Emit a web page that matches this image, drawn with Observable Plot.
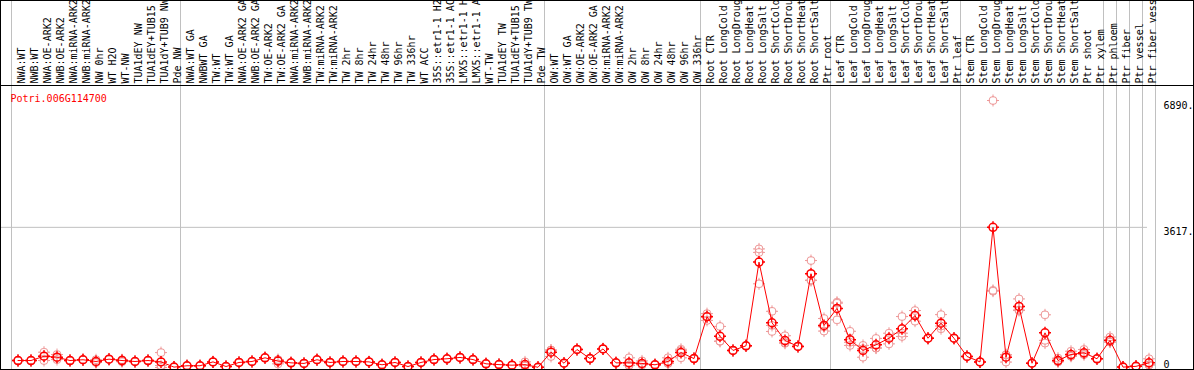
<!DOCTYPE html>
<html><head><meta charset="utf-8">
<script src="https://cdn.jsdelivr.net/npm/d3@7"></script>
<script src="https://cdn.jsdelivr.net/npm/@observablehq/plot@0.6"></script>
<style>html,body{margin:0;padding:0;background:#fff;} #chart{width:1194px;height:370px;overflow:hidden;}</style>
</head><body><div id="chart"></div>
<script>
const geneId = "Potri.006G114700";

const categories = [
  "NWA:WT","NWB:WT","NWA:OE-ARK2","NWB:OE-ARK2","NWA:miRNA-ARK2","NWB:miRNA-ARK2","NW 0hr","WT H2O","WT-NW","TUA1dEY NW","TUA1dEY+TUB15 NW","TUA1dY+TUB9 NW","Pde NW",
  "NWA:WT GA","NWBWT GA","TW:WT","TW:WT GA","NWA:OE-ARK2 GA","NWB:OE-ARK2 GA","TW:OE-ARK2","TW:OE-ARK2 GA","NWA:miRNA-ARK2 GA","NWB:miRNA-ARK2 GA","TW:miRNA-ARK2","TW:miRNA-ARK2 GA",
  "TW 2hr","TW 8hr","TW 24hr","TW 48hr","TW 96hr","TW 336hr","WT ACC","35S::etr1-1 H2O","35S::etr1-1 ACC","LMX5::etr1-1 H2O","LMX5::etr1-1 ACC","WT-TW","TUA1dEY TW","TUA1dEY+TUB15 TW","TUA1dY+TUB9 TW","Pde TW",
  "OW:WT","OW:WT GA","OW:OE-ARK2","OW:OE-ARK2 GA","OW:miRNA-ARK2","OW:miRNA-ARK2 GA","OW 2hr","OW 8hr","OW 24hr","OW 48hr","OW 96hr","OW 336hr",
  "Root CTR","Root LongCold","Root LongDrought","Root LongHeat","Root LongSalt","Root ShortCold","Root ShortDrought","Root ShortHeat","Root ShortSalt","Ptr root",
  "Leaf CTR","Leaf LongCold","Leaf LongDrought","Leaf LongHeat","Leaf LongSalt","Leaf ShortCold","Leaf ShortDrought","Leaf ShortHeat","Leaf ShortSalt","Ptr leaf",
  "Stem CTR","Stem LongCold","Stem LongDrought","Stem LongHeat","Stem LongSalt","Stem ShortCold","Stem ShortDrought","Stem ShortHeat","Stem ShortSalt","Ptr shoot",
  "Ptr xylem","Ptr phloem","Ptr fiber","Ptr vessel","Ptr fiber vessel"
];

const means = [
  180,180,290,265,180,200,155,215,180,155,180,145,10,
  45,45,145,25,130,155,250,165,120,105,200,130,
  155,155,145,70,130,25,130,205,225,260,205,95,75,60,75,5,
  395,110,465,230,480,120,120,105,70,155,385,230,
  1310,805,440,560,2720,1155,695,545,2420,1085,
  1525,718,440,585,755,1000,1340,755,1145,755,
  285,145,3617,265,1575,110,895,180,335,380,
  225,700,10,30,120
];

const rep1 = [
  190,185,395,335,185,205,200,220,150,160,185,385,15,
  50,50,150,30,135,160,255,95,125,110,205,135,
  160,160,150,75,135,30,135,210,230,265,210,100,80,65,145,8,
  285,115,470,235,485,125,250,170,75,250,470,240,
  1390,1060,445,565,3060,1450,820,550,2760,1265,
  1685,935,570,750,885,1315,1470,760,1365,760,
  290,150,6890,140,1770,115,1360,240,420,465,
  230,785,12,35,225
];
const rep2 = [
  175,178,180,205,178,198,130,212,200,152,178,50,8,
  42,42,142,22,128,152,248,200,118,102,198,128,
  152,152,142,68,128,22,128,202,222,258,202,92,72,58,40,4,
  450,108,462,228,478,118,60,75,68,110,250,225,
  1215,680,438,558,2970,930,640,542,2245,940,
  1230,570,265,500,610,800,1195,752,1000,752,
  282,142,1990,330,1470,108,700,150,295,340,
  222,660,8,28,70
];
const rep3 = [
  178,180,295,255,180,200,135,214,190,155,180,0,6,
  44,44,145,24,130,155,250,200,120,105,200,130,
  155,155,145,70,130,25,130,205,225,260,205,95,75,60,40,3,
  450,110,465,230,480,120,50,70,70,105,435,228,
  1325,675,440,560,2160,1085,625,545,2255,1050,
  1660,650,485,505,770,885,1355,755,1070,755,
  285,145,1970,325,1485,110,630,150,290,335,
  225,655,10,30,65
];

// separators: drawn before these categories, plus one after the last
const separatorsBefore = ["NWA:WT","NWA:WT GA","OW:WT","Root CTR","Leaf CTR","Stem CTR","Ptr phloem","Ptr fiber","Ptr vessel","Ptr fiber vessel"];
const separatorsAfter = ["Ptr fiber vessel"];

const yTicks = [0, 3617, 6890];
const yTickLabels = ["0", "3617.", "6890."];

const rows = categories.map((c, i) => ({c, mean: means[i]}));
const reps = categories.flatMap((c, i) => [rep1[i], rep2[i], rep3[i]].map(v => ({c, v})));
const ticks = yTicks.map((v, i) => ({v, label: yTickLabels[i]}));

const tickCircle = {
  draw(ctx, size) {
    const r = Math.sqrt(size / Math.PI);
    ctx.moveTo(r, 0);
    ctx.arc(0, 0, r, 0, 2 * Math.PI);
    ctx.moveTo(0, -r - 2); ctx.lineTo(0, -r + 1);
    ctx.moveTo(0, r - 1); ctx.lineTo(0, r + 2);
    ctx.moveTo(-r - 2, 0); ctx.lineTo(-r + 1, 0);
    ctx.moveTo(r - 1, 0); ctx.lineTo(r + 2, 0);
  }
};

const mono = "DejaVu Sans Mono, monospace";
const grid = "#c0c0c0";
const step = 13;

const chart = Plot.plot({
  width: 1194,
  height: 370,
  marginLeft: 11,
  marginRight: 39,
  marginTop: 85,
  marginBottom: 1,
  style: {background: "white", outline: "1px solid black", outlineOffset: "-1px", overflow: "hidden"},
  x: {type: "band", domain: categories, padding: 0, axis: null},
  y: {domain: [0, 6890], range: [367, 100], axis: null},
  marks: [
    Plot.ruleY([3617], {stroke: grid, insetLeft: -11, insetRight: 8}),
    Plot.ruleX(separatorsBefore, {x: d => d, dx: -step / 2, stroke: grid, insetTop: -85}),
    Plot.ruleX(separatorsAfter, {x: d => d, dx: step / 2, stroke: grid, insetTop: -85}),
    Plot.frame({anchor: "top", stroke: "black", insetLeft: -11, insetRight: -39}),
    Plot.text(categories, {x: d => d, frameAnchor: "top", dy: -2, rotate: -90, textAnchor: "start", fontFamily: mono, fontSize: 10, fill: "black"}),
    Plot.text([geneId], {frameAnchor: "top-left", dx: -1, dy: 9, textAnchor: "start", fill: "red", fontFamily: mono, fontSize: 10}),
    Plot.text(ticks.filter(d => d.v > 0), {y: "v", text: "label", frameAnchor: "right", dx: 8, dy: 1, textAnchor: "start", lineAnchor: "top", fontFamily: mono, fontSize: 10, fill: "black"}),
    Plot.text(ticks.filter(d => d.v === 0), {y: "v", text: "label", frameAnchor: "right", dx: 8, dy: 0, textAnchor: "start", lineAnchor: "bottom", fontFamily: mono, fontSize: 10, fill: "black"}),
    Plot.dot(reps, {x: "c", y: "v", symbol: tickCircle, r: 4, stroke: "#ee9999", fill: "none", strokeWidth: 1}),
    Plot.line(rows, {x: "c", y: "mean", stroke: "red", strokeWidth: 1}),
    Plot.dot(rows, {x: "c", y: "mean", symbol: tickCircle, r: 4, stroke: "red", fill: "none", strokeWidth: 1.5})
  ]
});
document.getElementById("chart").appendChild(chart);
</script>
</body></html>
